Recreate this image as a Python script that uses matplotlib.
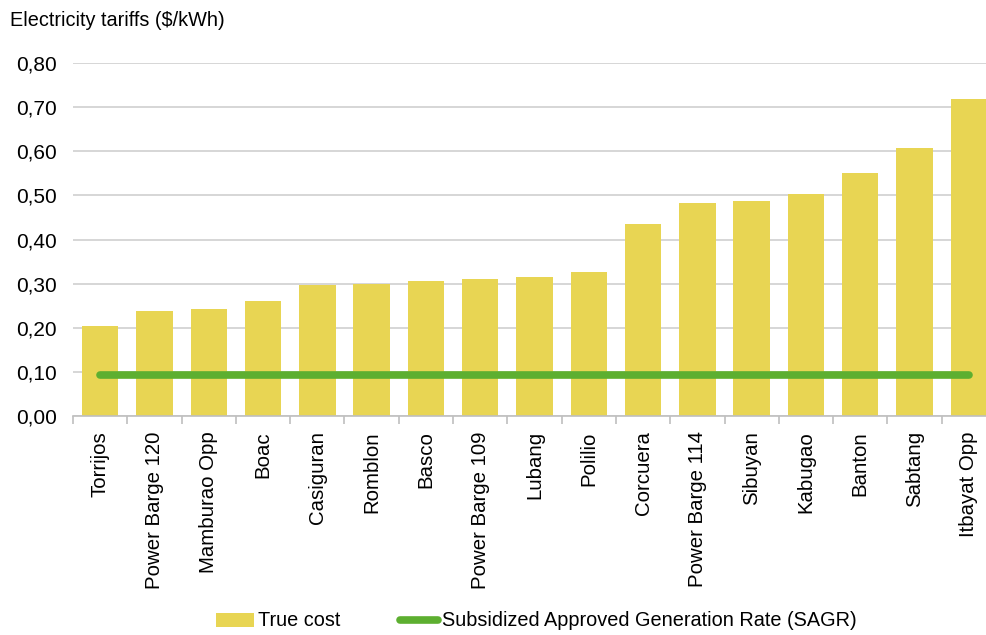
import matplotlib
matplotlib.use("Agg")
import matplotlib.pyplot as plt
from matplotlib.ticker import FuncFormatter, FixedLocator
import numpy as np

plt.rcParams['font.family'] = ['Liberation Sans', 'DejaVu Sans']

categories = ["Torrijos", "Power Barge 120", "Mamburao Opp", "Boac", "Casiguran",
              "Romblon", "Basco", "Power Barge 109", "Lubang", "Polilio", "Corcuera",
              "Power Barge 114", "Sibuyan", "Kabugao", "Banton", "Sabtang", "Itbayat Opp"]
true_cost = [0.204, 0.238, 0.243, 0.260, 0.296, 0.300, 0.307, 0.311, 0.316, 0.327,
             0.434, 0.483, 0.487, 0.503, 0.550, 0.607, 0.719]
sagr = [0.093] * len(categories)
yticks = [0.0, 0.1, 0.2, 0.3, 0.4, 0.5, 0.6, 0.7, 0.8]

fig = plt.figure(figsize=(9.86, 6.35), dpi=100)
ax = fig.add_axes([73/986, 1-416/635, (996-73)/986, (416-63)/635])

x = np.arange(len(categories))
bars = ax.bar(x, true_cost, width=0.67, color='#E8D553', label='True cost', zorder=2)
line, = ax.plot(x, sagr, color='#5DAF30', lw=5.5, solid_capstyle='round', zorder=3,
                label='Subsidized Approved Generation Rate (SAGR)')

ax.set_xlim(-0.5, len(categories) - 0.5)
ax.set_ylim(0, 0.8)
ax.set_yticks(yticks)
ax.yaxis.set_major_formatter(FuncFormatter(lambda v, p: f"{v:.2f}".replace('.', ',')))
ax.grid(axis='y', color='#d0d0d0', lw=1.2, zorder=0)
ax.set_axisbelow(True)
for s in ['top', 'right', 'left']:
    ax.spines[s].set_visible(False)
ax.spines['bottom'].set_color('#bfbfbf')
ax.spines['bottom'].set_linewidth(1.2)
ax.tick_params(axis='y', length=0, labelsize=15, pad=11.5, colors='#000000')
ax.set_xticks(x)
ax.set_xticklabels(categories, rotation=90, fontsize=14.7)
ax.tick_params(axis='x', which='major', length=0, pad=11)
ax.xaxis.set_minor_locator(FixedLocator(np.arange(-0.5, len(categories), 1.0)))
ax.tick_params(axis='x', which='minor', length=6, color='#bfbfbf', width=1.2)

fig.text(10/986, 1-20/635, "Electricity tariffs ($/kWh)", fontsize=14.3, va='center', ha='left')

fig.legend([bars, line], ['True cost', 'Subsidized Approved Generation Rate (SAGR)'],
           loc='center', bbox_to_anchor=(0.544, 1-621/635), ncol=2, frameon=False,
           fontsize=14.3, handlelength=1.9, handletextpad=0.2, columnspacing=3.0)

fig.savefig("out.png", dpi=100)
